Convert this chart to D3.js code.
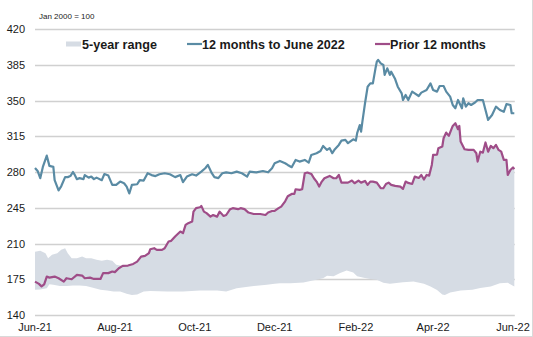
<!DOCTYPE html>
<html>
<head>
<meta charset="utf-8">
<script src="https://cdn.jsdelivr.net/npm/d3@7"></script>
<style>
html,body{margin:0;padding:0;background:#fff;}
svg{display:block;font-family:"Liberation Sans",Arial,sans-serif;}
</style>
</head>
<body>
<svg id="chart" width="533" height="337"></svg>
<script>
// ---- data (day offset from 1 Jun 2021, index value Jan 2000 = 100) ----
const legendLabels = ["5-year range", "12 months to June 2022", "Prior 12 months"];
const xTickLabels = ["Jun-21","Aug-21","Oct-21","Dec-21","Feb-22","Apr-22","Jun-22"];
const xTickMonths = [0, 2, 4, 6, 8, 10, 12];
const yTicks = [140, 175, 210, 245, 280, 315, 350, 385, 420];
const unitNote = "Jan 2000 = 100";

const recent12m = [[0,284],[2,281],[4,274],[6,285],[9,296],[11,286],[14,285],[15,272],[18,262],[20,266],[23,275],[25,275],[27,276],[29,280],[30,278],[32,273],[34,274],[37,273],[38,277],[41,274.5],[43,275.5],[45,273],[47,274.5],[51,272],[53,278],[56,276.5],[59,267.4],[62,267.4],[65,270.6],[68,269],[70,265.7],[72,259],[74,267.4],[78,268],[80,272],[83,271.6],[86,278.8],[89,277],[92,276],[95,277.8],[99,278.8],[103,277.8],[107,275],[111,277],[113,270],[116,275.5],[120,277.8],[123,276.5],[127,280.4],[130,283.7],[132,287],[135,278.8],[137,275],[140,274],[143,278.8],[146,279.7],[150,278.8],[154,280.4],[158,278.8],[162,275.5],[164,280.4],[169,279.7],[174,281],[178,279.7],[181,283.7],[183,288.6],[187,290.8],[191,288.6],[193,286.9],[196,284.7],[199,291.8],[202,290.2],[206,291.8],[209,289.2],[211,296.7],[215,298.4],[218,300.6],[220,305.5],[223,301.6],[225,303.3],[227,298.4],[229,302.3],[232,306.5],[234,310.7],[237,311.4],[239,308.2],[243,312],[245,310.7],[246,318],[248,326],[249,319.5],[250,329.3],[252,347.3],[254,363.5],[256,366.8],[258,366.8],[260,381.5],[261,388],[262,389.7],[264,386.4],[266,384.8],[267,375],[269,381.5],[271,375],[272,378.2],[275,371],[277,363.5],[280,357],[281,350.5],[283,355.4],[285,350.5],[288,358.7],[290,357],[293,354.4],[295,357.7],[299,360.3],[302,366.8],[304,360.3],[307,358.7],[309,364.2],[312,364.2],[314,358.7],[317,353.8],[319,345.6],[321,342.4],[323,350.5],[326,342.4],[327,352.2],[329,344],[331,347.3],[333,345.6],[336,348],[338,350.5],[342,350.5],[344,340.7],[346,331],[349,335.8],[352,344],[355,340.7],[358,339],[360,346.5],[363,345.6],[364,337.5],[366,337.5]];

const prior12m = [[0,172.7],[3,170.5],[5,168],[7,170],[9,177.6],[11,176.6],[15,177.6],[18,176],[22,172.7],[24,176],[28,175],[32,179.3],[36,178.6],[38,176],[42,176.6],[45,175.3],[50,175.3],[52,181],[56,181],[59,182.6],[61,182],[64,185.8],[67,188.1],[71,188.4],[75,190],[78,192.3],[81,197.2],[84,197.8],[87,200.5],[88,204.4],[91,205.4],[93,203.8],[97,203.8],[99,205.4],[102,211.9],[104,212.6],[107,216.8],[111,221.7],[113,220.1],[115,228.2],[117,229.9],[120,231.5],[121,241.2],[123,244.6],[126,245.5],[127,246.8],[129,241.2],[131,239.7],[134,236.3],[136,237.9],[139,236.3],[141,241.2],[144,237],[146,237.9],[149,243.6],[151,244.6],[155,243.6],[157,244.6],[160,243.6],[163,240.3],[167,238.9],[172,238.9],[176,237.9],[178,240.3],[181,241.8],[183,242],[186,244.6],[188,246.1],[191,251.3],[193,256.3],[196,258.5],[198,258.5],[199,263.1],[202,262.5],[204,263.1],[206,278.8],[208,279.5],[211,278.1],[213,273.9],[215,270.6],[217,265.7],[219,270.6],[221,273.9],[225,276.2],[228,273.9],[230,273.9],[232,277.1],[234,269.6],[237,269.6],[239,269.6],[242,271.6],[244,269],[247,271.6],[249,269.6],[252,271.3],[254,267.4],[256,270.6],[258,270.6],[261,269.6],[264,264.1],[266,264.1],[268,268.3],[270,269.6],[272,267.4],[275,266.4],[279,265.7],[281,263.4],[283,270.6],[285,269.3],[288,268.3],[290,275.5],[293,274.2],[295,277.1],[297,272.6],[299,277.1],[301,276.5],[303,286.9],[304,296.7],[307,297.1],[308,303.3],[311,305],[312,313],[314,318.6],[316,315.3],[318,321.9],[319,325.1],[321,327.7],[323,321.9],[324,325.1],[325,309.8],[328,302.3],[331,301.6],[335,301.6],[337,298.4],[338,290.2],[340,299.9],[342,299],[344,308.9],[346,299.9],[348,305.5],[350,303.3],[352,306.5],[354,301.6],[356,299.9],[358,291.8],[360,291.8],[361,277.1],[363,282],[365,284.4],[366,282.8]];

// 5-year range: upper edge before it meets the prior-12-months line (from day 67 it coincides with it)
const rangeUpperEarly = [[0,202],[4,203],[8,200.5],[10,195.6],[13,199],[17,200.5],[20,203.8],[23,205.4],[25,200.5],[28,195.6],[32,195.6],[36,197.2],[39,195.6],[43,195.6],[47,194],[51,193],[55,194],[59,193],[62,189.1],[65,188.5]];
const rangeLower = [[0,164.6],[4,165],[9,166.3],[11,170],[14,169.5],[19,168.5],[24,168.5],[29,169],[34,169],[39,168.5],[45,166.5],[50,164.6],[55,164],[60,163],[65,163],[70,160.7],[74,159.7],[78,160],[83,163],[88,163.5],[101,163],[113,163],[126,164],[139,164],[146,163],[154,166.3],[164,168],[177,169.5],[183,170.5],[187,171],[195,171.1],[205,171.8],[213,174],[220,176],[223,178.5],[228,178],[233,181],[238,183.5],[243,181.5],[246,178],[251,176.5],[256,175.2],[261,174.4],[266,171.5],[271,170.5],[281,172],[289,172.7],[297,170.5],[302,167.9],[307,164.5],[311,160],[313,159.5],[317,162],[325,164],[334,164.6],[340,166.5],[348,168],[355,171],[361,171.5],[366,168]];

// ---- drawing ----
const svg = d3.select("#chart");
const start = new Date(2021, 5, 1);
const toDate = d => d3.timeDay.offset(start, d);
const x = d3.scaleTime().domain([start, new Date(2022, 5, 1)]).range([35, 513]);
const y = d3.scaleLinear().domain([140, 420]).range([315, 29]);
const plotRight = x(toDate(366)) + 0.5;

const colBand = "#d6dce4", colRecent = "#5a8ba4", colPrior = "#9f4d88", colGrid = "#d0d0d0", colText = "#1a1a1a";

// frame edges
svg.append("line").attr("x1", 532.5).attr("x2", 532.5).attr("y1", 0).attr("y2", 337).attr("stroke", "#d9d9d9");
svg.append("line").attr("x1", 0).attr("x2", 533).attr("y1", 336.5).attr("y2", 336.5).attr("stroke", "#d9d9d9");

// gridlines
svg.append("g").selectAll("line").data(yTicks).join("line")
  .attr("x1", 35).attr("x2", plotRight)
  .attr("y1", d => Math.round(y(d)) + 0.5).attr("y2", d => Math.round(y(d)) + 0.5)
  .attr("stroke", colGrid).attr("stroke-width", 1.3);

// band
const upper = rangeUpperEarly.concat(prior12m.filter(p => p[0] >= 67));
const poly = upper.concat(rangeLower.slice().reverse());
const areaLine = d3.line().x(p => x(toDate(p[0]))).y(p => y(p[1]));
svg.append("path").attr("d", areaLine(poly) + "Z").attr("fill", colBand);

// lines
const line = d3.line().x(p => x(toDate(p[0]))).y(p => y(p[1]));
svg.append("path").attr("d", line(recent12m)).attr("fill", "none").attr("stroke", colRecent).attr("stroke-width", 2.2).attr("stroke-linejoin", "round");
svg.append("path").attr("d", line(prior12m)).attr("fill", "none").attr("stroke", colPrior).attr("stroke-width", 2.2).attr("stroke-linejoin", "round");

// y axis labels
svg.append("g").selectAll("text").data(yTicks).join("text")
  .attr("x", 25).attr("y", d => y(d) + 4)
  .attr("text-anchor", "end").attr("font-size", 11).attr("fill", colText)
  .text(d => d);

// x axis labels
svg.append("g").selectAll("text").data(xTickMonths).join("text")
  .attr("x", (m, i) => x(d3.timeMonth.offset(start, m)))
  .attr("y", 331).attr("text-anchor", "middle").attr("font-size", 11).attr("fill", colText)
  .text((m, i) => xTickLabels[i]);

// unit note
svg.append("text").attr("x", 39).attr("y", 19).attr("font-size", 8).attr("fill", colText).text(unitNote);

// legend
const lg = svg.append("g").attr("font-size", 12.6).attr("font-weight", "bold").attr("fill", colText);
lg.append("rect").attr("x", 66).attr("y", 41.5).attr("width", 15).attr("height", 5).attr("fill", colBand);
lg.append("text").attr("x", 82).attr("y", 48.5).text(legendLabels[0]);
lg.append("line").attr("x1", 187).attr("x2", 202).attr("y1", 44).attr("y2", 44).attr("stroke", colRecent).attr("stroke-width", 2.2);
lg.append("text").attr("x", 202).attr("y", 48.5).text(legendLabels[1]);
lg.append("line").attr("x1", 375).attr("x2", 390).attr("y1", 44).attr("y2", 44).attr("stroke", colPrior).attr("stroke-width", 2.2);
lg.append("text").attr("x", 390).attr("y", 48.5).text(legendLabels[2]);
</script>
</body>
</html>
